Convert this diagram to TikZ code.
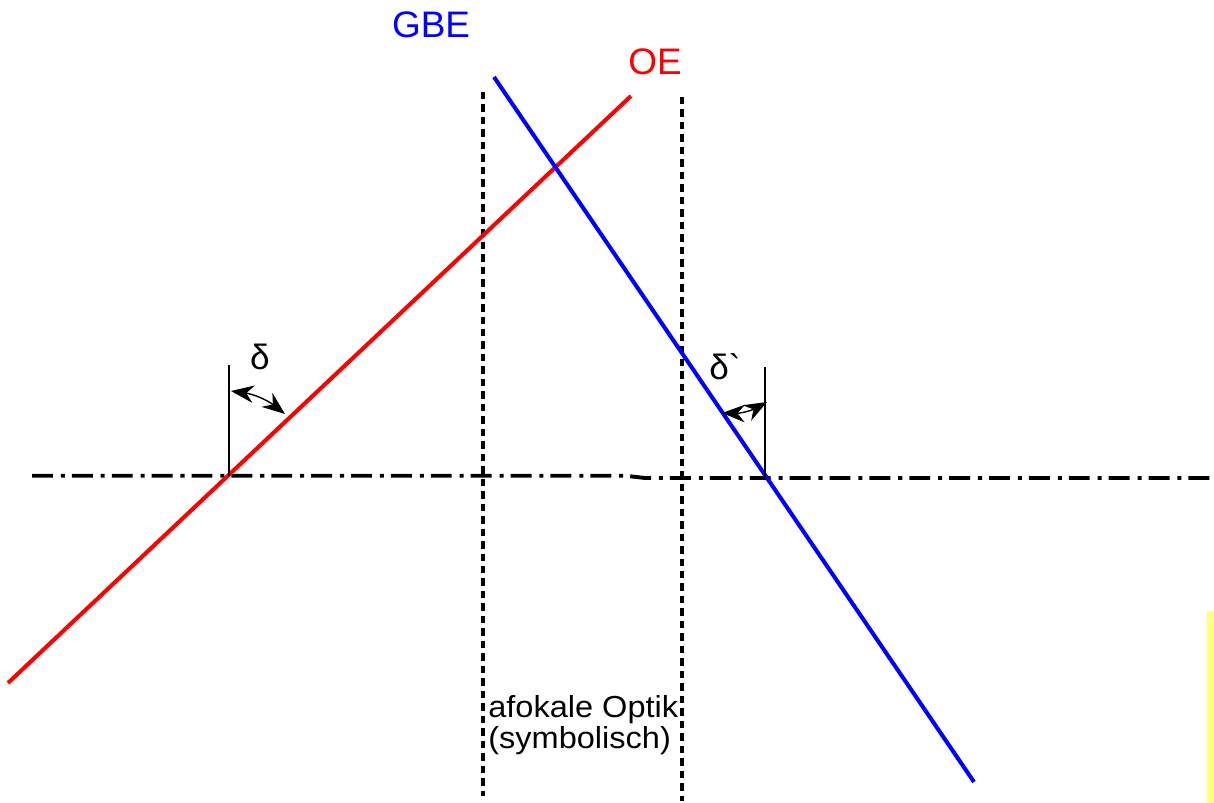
\documentclass[tikz,border=0pt]{standalone}
\usepackage{fontspec}
\setmainfont{Liberation Sans}[Ligatures=TeXOff]
\newfontfamily\widefont{Liberation Sans}[FakeStretch=1.07]
\usetikzlibrary{arrows.meta}

\definecolor{gbeblue}{RGB}{0,0,255}
\definecolor{oered}{RGB}{255,0,0}
\definecolor{markbar}{RGB}{255,255,128}

\begin{document}
\begin{tikzpicture}[x=0.02cm, y=-0.02cm,
    beam/.style={line width=2.3pt},
    opticaxis/.style={line width=2.2pt, dash pattern=on 11.9pt off 4.5pt on 2.3pt off 4pt},
    lensplane/.style={line width=2.2pt, dash pattern=on 4.25pt off 2.85pt},
    normal/.style={line width=0.6pt},
    anglearrow/.style={line width=0.8pt, {Stealth[length=13pt,width=10pt]}-{Stealth[length=13pt,width=10pt]}}]
    \useasboundingbox (0,0) rectangle (1214,803);

    % Points of the beams
    \coordinate (oeA) at (8,683);
    \coordinate (oeB) at (631,96);
    \coordinate (gbeA) at (494,77);
    \coordinate (gbeB) at (974,782);
    \coordinate (hitL) at (229,475.7);
    \coordinate (hitR) at (765,478);

    % Yellow marker at the right edge
    \fill[markbar] (1207,611) rectangle (1214,803);

    % Optical axis
    \coordinate (axA) at (32,475.7);
    \coordinate (axK) at (625,475.7);
    \coordinate (axL) at (645,478);
    \coordinate (axB) at (1214,478);
    \draw[opticaxis] (axA) -- (axK) -- (axL) -- (axB);

    % Planes of the afocal optics
    \coordinate (planeLt) at (483,92);
    \coordinate (planeLb) at (483,796);
    \coordinate (planeRt) at (682,97);
    \coordinate (planeRb) at (682,801);
    \draw[lensplane] (planeLt) -- (planeLb);
    \draw[lensplane] (planeRt) -- (planeRb);

    % Beams
    \draw[beam, oered] (oeA) -- (oeB);
    \draw[beam, gbeblue] (gbeA) -- (gbeB);

    % Normals and angles
    \coordinate (normL) at (229,365);
    \coordinate (normR) at (765,367);
    \draw[normal] (hitL) -- (normL);
    \draw[normal] (hitR) -- (normR);
    \coordinate (arcLa) at (231,391);
    \coordinate (arcLb) at (285,414);
    \coordinate (arcRa) at (722,413);
    \coordinate (arcRb) at (767,402);
    \draw[anglearrow] (arcLa) to[bend left=15] (arcLb);
    \draw[anglearrow] (arcRa) to[bend right=15] (arcRb);

    % Labels
    \node[gbeblue, font=\fontsize{21}{25}\selectfont] (gbe) at (431,25) {GBE};
    \node[oered, font=\fontsize{21}{25}\selectfont] (oe) at (655,62) {OE};
    \node[font=\fontsize{20}{24}\selectfont] (delta) at (260,357) {δ};
    \node[font=\fontsize{20}{24}\selectfont, anchor=west, inner sep=0] (deltap) at (709,367) {δ`};
    \node[font=\widefont\fontsize{17.3}{20}\selectfont, anchor=base west, inner sep=0] (optikA) at (488,717) {afokale Optik};
    \node[font=\widefont\fontsize{17.3}{20}\selectfont, anchor=base west, inner sep=0] (optikB) at (488,748) {(symbolisch)};
\end{tikzpicture}
\end{document}
